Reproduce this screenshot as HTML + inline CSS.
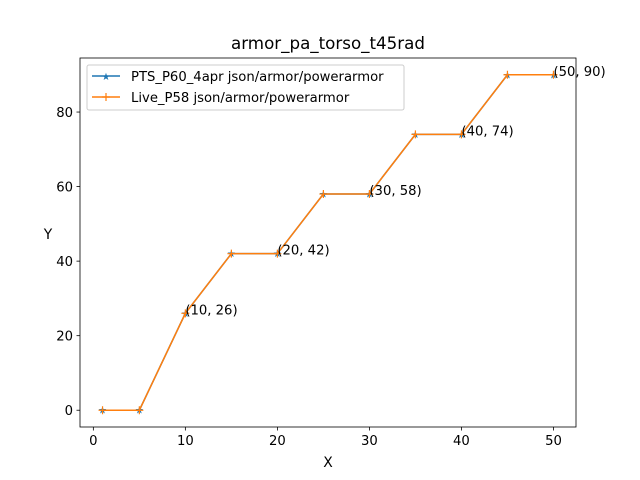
<!DOCTYPE html>
<html><head><meta charset="utf-8"><style>
body{margin:0;background:#fff;}
svg{display:block;font-family:"DejaVu Sans","Liberation Sans",sans-serif;}
</style></head><body>
<svg id="chart" width="640" height="480" viewBox="0 0 640 480">
<rect width="640" height="480" fill="#fff"/>
<text x="328" y="49" font-size="16.7" text-anchor="middle">armor_pa_torso_t45rad</text>
<g id="grid"></g>
<g id="plot"></g>
<rect x="80" y="58" width="496" height="369" fill="none" stroke="#000" stroke-width="0.8"/>
<text x="328" y="467" font-size="13.9" text-anchor="middle">X</text>
<text x="48" y="239" font-size="13.9" text-anchor="middle">Y</text>
<g>
<rect x="87" y="65" width="317" height="45" rx="2" fill="#fff" fill-opacity="0.8" stroke="#ccc"/>
<g>
<line x1="92" y1="76" x2="120" y2="76" stroke="#1f77b4" stroke-width="1.5"/>
<text x="106" y="80" font-size="10" fill="#1f77b4" text-anchor="middle">★</text>
<text x="131" y="81" font-size="13.2">PTS_P60_4apr json/armor/powerarmor</text>
</g>
<g>
<line x1="92" y1="97" x2="120" y2="97" stroke="#ff7f0e" stroke-width="1.5"/>
<path d="M102 97h8M106 93v8" stroke="#ff7f0e" stroke-width="1.2"/>
<text x="131" y="102" font-size="13.2">Live_P58 json/armor/powerarmor</text>
</g>
</g>
</svg>
<script>
const xs=[1,5,10,15,20,25,30,35,40,45,50];
const ptsY=[0,0,26,42,42,58,58,74,74,90,90];
const liveY=[0,0,26,42,42,58,58,74,74,90,90];
const xTicks=[0,10,20,30,40,50];
const yTicks=[0,20,40,60,80];
const annX=[10,20,30,40,50];
const annY=[26,42,58,74,90];
const NS="http://www.w3.org/2000/svg";
const sx=v=>80+(v+1.45)*(496/53.9);
const sy=v=>427-(v+4.5)*(369/99);
const svg=document.getElementById('chart');
const plot=document.getElementById('plot');
const grid=document.getElementById('grid');
function mk(t,a,p){const e=document.createElementNS(NS,t);for(const k in a)e.setAttribute(k,a[k]);(p||svg).appendChild(e);return e;}
xTicks.forEach(t=>{
const l=mk('line',{x1:sx(t),x2:sx(t),y1:427,y2:430.5,stroke:'#000','stroke-width':0.8},grid);


const tx=mk('text',{x:sx(t),y:445,'font-size':13.2,'text-anchor':'middle'},grid);tx.textContent=t;


});
yTicks.forEach(t=>{
const l=mk('line',{x1:76.5,x2:80,y1:sy(t),y2:sy(t),stroke:'#000','stroke-width':0.8},grid);


const tx=mk('text',{x:73,y:sy(t)+5,'font-size':13.2,'text-anchor':'end'},grid);tx.textContent=t;


});
function series(ys,color,name,marker){
const d=xs.map((x,i)=>(i?'L':'M')+sx(x)+' '+sy(ys[i])).join('');
const p=mk('path',{d:d,fill:'none',stroke:color,'stroke-width':1.5},plot);


xs.forEach((x,i)=>{
let m;
if(marker==='star'){m=mk('text',{x:sx(x),y:sy(ys[i])+3.5,'font-size':10,fill:color,'text-anchor':'middle'},plot);m.textContent='★';}
else{m=mk('path',{d:`M${sx(x)-4} ${sy(ys[i])}h8M${sx(x)} ${sy(ys[i])-4}v8`,stroke:color,'stroke-width':1.2},plot);}


});
}
series(ptsY,'#1f77b4','pts-series','star');
series(liveY,'#ff7f0e','live-series','plus');
annX.forEach((x,i)=>{
const t=mk('text',{x:sx(x),y:sy(annY[i])+1,'font-size':13.2},plot);
t.textContent='('+x+', '+annY[i]+')';


});
</script>
</body></html>
